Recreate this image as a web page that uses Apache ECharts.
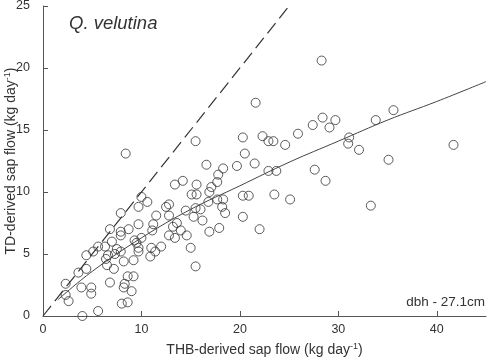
<!DOCTYPE html>
<html>
<head>
<meta charset="utf-8">
<script src="https://cdn.jsdelivr.net/npm/echarts@6/dist/echarts.min.js"></script>
<style>
	html, body { margin: 0; padding: 0; background: #fff; }
	#chart { width: 490px; height: 360px; }
</style>
</head>
<body>
<div id="chart"></div>
<script>
// 散点数据 [THB, TD]
let points = [
	[4.0, 0.0], [5.6, 0.4], [8.0, 1.0], [8.6, 1.1], [2.6, 1.2], [2.3, 1.7], [4.9, 1.8], [9.0, 2.0],
	[3.9, 2.3], [4.9, 2.3], [8.2, 2.3], [2.3, 2.6], [8.3, 2.6], [6.8, 2.7], [8.6, 3.2], [9.2, 3.2],
	[3.6, 3.5], [4.4, 3.8], [7.2, 3.8], [6.5, 4.1], [8.2, 4.4], [9.2, 4.5], [6.4, 4.6], [4.4, 4.9],
	[6.6, 4.9], [7.3, 5.0], [5.1, 5.2], [7.9, 5.2], [9.7, 5.2], [7.5, 5.4], [9.7, 5.5], [5.6, 5.6],
	[6.3, 5.6], [9.5, 5.9], [7.0, 6.0], [9.3, 6.1], [10.0, 6.3], [7.9, 6.5], [7.9, 6.8], [6.8, 7.0],
	[8.7, 7.0], [9.7, 7.4], [7.9, 8.3], [9.7, 8.8], [10.6, 9.2], [10.0, 9.6], [8.4, 13.1],
	[10.9, 4.8], [11.0, 5.5], [11.4, 5.2], [12.0, 5.6], [15.0, 5.5], [15.5, 4.0], [13.4, 6.3],
	[12.8, 6.5], [14.6, 6.5], [14.0, 6.9], [13.2, 7.2], [13.6, 7.5], [11.1, 6.9], [11.2, 7.4],
	[16.9, 6.8], [17.9, 7.1], [16.2, 7.7], [15.3, 8.0], [11.5, 8.1], [12.8, 8.1], [14.5, 8.5],
	[12.5, 8.8], [12.8, 9.0], [15.5, 8.7], [16.0, 8.6], [16.8, 9.2], [17.7, 9.4], [18.3, 9.4],
	[18.2, 8.8], [18.5, 8.3], [15.1, 9.8], [15.6, 9.8], [16.9, 10.0], [17.1, 10.4], [17.7, 10.8],
	[17.8, 11.4], [13.4, 10.6], [14.2, 10.9], [15.6, 10.6], [16.6, 12.2], [18.3, 11.9], [19.7, 12.1],
	[15.5, 14.1],
	[20.3, 8.0], [22.0, 7.0], [20.3, 9.7], [20.9, 9.7], [23.5, 9.8], [25.1, 9.4], [22.9, 11.7],
	[23.7, 11.7], [27.6, 11.8], [28.7, 10.9], [21.5, 12.3], [20.5, 13.1], [20.3, 14.4], [22.3, 14.5],
	[22.9, 14.1], [23.4, 14.1], [24.6, 13.8], [25.9, 14.7], [27.4, 15.4], [28.4, 16.0], [29.1, 15.2],
	[29.7, 15.8], [21.6, 17.2], [28.3, 20.6], [31.1, 14.4], [31.0, 13.9], [32.1, 13.4], [33.8, 15.8],
	[35.6, 16.6], [35.1, 12.6], [33.3, 8.9], [41.7, 13.8]
];
// 拟合曲线
let fitLine = [
	[1.5, 1.3], [5, 3.6], [10, 6.3], [15, 8.6], [20, 10.5], [25, 12.4],
	[30, 14.1], [35, 15.8], [40, 17.3], [45, 18.9]
];
// 1:1 线
let oneToOne = [[0, 0], [25, 25]];
let xTicks = [0, 10, 20, 30, 40];
let yTicks = [0, 5, 10, 15, 20, 25];

let font = 'Liberation Sans, Arial, sans-serif';
let axisColor = '#555';
let textColor = '#333';

let nameRich = {
	a: { fontSize: 14, color: textColor, fontFamily: font },
	s: { fontSize: 9, color: textColor, fontFamily: font, padding: [0, 0, 8, 0] }
};

let option = {
	backgroundColor: '#fff',
	animation: false,
	grid: {
		left: 43,
		right: 4,
		top: 6,
		bottom: 44,
		containLabel: false,
		outerBoundsMode: 'none'
	},
	xAxis: {
		type: 'value',
		min: 0,
		max: 45,
		interval: 10,
		name: '{a|THB-derived sap flow (kg day}{s|-1}{a|)}',
		nameLocation: 'middle',
		nameGap: 26,
		nameMoveOverlap: false,
		nameTextStyle: { rich: nameRich },
		splitLine: { show: false },
		axisLine: { onZero: false, lineStyle: { color: axisColor, width: 1 } },
		axisTick: { inside: true, length: 5, customValues: xTicks, lineStyle: { color: axisColor } },
		axisLabel: { customValues: xTicks, color: textColor, fontSize: 12.5, fontFamily: font, margin: 7 }
	},
	yAxis: {
		type: 'value',
		min: 0,
		max: 25,
		interval: 5,
		name: '{a|TD-derived sap flow (kg day}{s|-1}{a|)}',
		nameLocation: 'middle',
		nameGap: 23,
		nameRotate: 90,
		nameMoveOverlap: false,
		nameTextStyle: { rich: nameRich },
		splitLine: { show: false },
		axisLine: { show: true, lineStyle: { color: axisColor, width: 1 } },
		axisTick: { show: true, inside: true, length: 5, customValues: yTicks, lineStyle: { color: axisColor } },
		axisLabel: { customValues: yTicks, color: textColor, fontSize: 12.5, fontFamily: font, margin: 13 }
	},
	graphic: [
		{
			type: 'text',
			left: 69,
			top: 14,
			style: { text: 'Q. velutina', font: 'italic 18.5px ' + font, fill: textColor }
		},
		{
			type: 'text',
			right: 5,
			top: 295,
			style: { text: 'dbh - 27.1cm', font: '13.5px ' + font, fill: textColor }
		}
	],
	series: [
		{
			type: 'line',
			data: oneToOne,
			symbol: 'none',
			silent: true,
			lineStyle: { color: '#333', width: 1.2, type: [13, 6] }
		},
		{
			type: 'line',
			data: fitLine,
			symbol: 'none',
			smooth: 0.4,
			silent: true,
			lineStyle: { color: '#444', width: 1 }
		},
		{
			type: 'scatter',
			data: points,
			symbol: 'circle',
			symbolSize: 9,
			itemStyle: { color: 'rgba(255,255,255,0)', borderColor: '#333', borderWidth: 1 }
		}
	]
};

let myChart = echarts.init(document.getElementById('chart'));
myChart.setOption(option);
</script>
</body>
</html>
